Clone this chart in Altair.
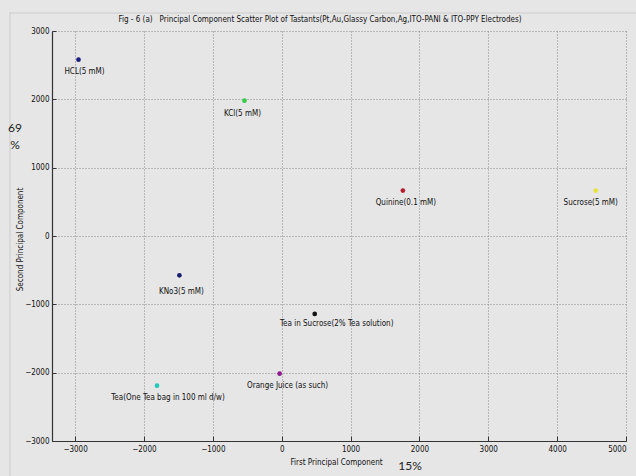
import altair as alt
import pandas as pd

# Tastant scores on the first two principal components
tastants = [
    "HCL(5 mM)",
    "KCl(5 mM)",
    "Quinine(0.1 mM)",
    "Sucrose(5 mM)",
    "KNo3(5 mM)",
    "Tea in Sucrose(2% Tea solution)",
    "Orange Juice (as such)",
    "Tea(One Tea bag in 100 ml d/w)",
]
pc1 = [-2950, -540, 1760, 4560, -1485, 480, -30, -1810]
pc2 = [2580, 1980, 665, 665, -575, -1140, -2015, -2190]
marker_colors = ["#1b1b80", "#33cc44", "#b81c2c", "#e4e43a",
                 "#1a1a70", "#111111", "#8e1a8e", "#22c8b8"]

x_ticks = [-3000, -2000, -1000, 0, 1000, 2000, 3000, 4000, 5000]
y_ticks = [-3000, -2000, -1000, 0, 1000, 2000, 3000]

# pixel nudges for each label relative to its marker
label_nudge = {
    "HCL(5 mM)": (6, 12),
    "KCl(5 mM)": (-2, 13),
    "Quinine(0.1 mM)": (3, 12),
    "Sucrose(5 mM)": (-5, 12),
    "KNo3(5 mM)": (2, 17),
    "Tea in Sucrose(2% Tea solution)": (22, 10),
    "Orange Juice (as such)": (8, 12),
    "Tea(One Tea bag in 100 ml d/w)": (11, 12),
}

TITLE = ("Fig - 6 (a)\u00a0\u00a0\u00a0Principal Component Scatter Plot of Tastants"
         "(Pt,Au,Glassy Carbon,Ag,ITO-PANI & ITO-PPY Electrodes)")

W, H = 574, 410
NARROW = "Liberation Sans Narrow, DejaVu Sans Condensed, Arial Narrow, sans-serif"
BG = "#e6e6e6"

df = pd.DataFrame({"name": tastants, "pc1": pc1, "pc2": pc2, "color": marker_colors})

xs = alt.Scale(domain=[-3335, 5000], nice=False, zero=False)
ys = alt.Scale(domain=[-3000, 3000], nice=False, zero=False)

base = alt.Chart(df)

points = base.mark_circle(size=22, opacity=1).encode(
    x=alt.X("pc1:Q", scale=xs,
            axis=alt.Axis(values=x_ticks, format="d", title="First Principal Component",
                          ticks=False, grid=True, gridDash=[1, 2],
                          gridColor="#8a8a8a", gridOpacity=1, labelPadding=4,
                          titleX=284, titleY=21, titleAnchor="middle",
                          titleAlign="center", titleBaseline="middle")),
    y=alt.Y("pc2:Q", scale=ys,
            axis=alt.Axis(values=y_ticks, format="d", title="Second Principal Component",
                          ticks=False, grid=True, gridDash=[1, 2],
                          gridColor="#8a8a8a", gridOpacity=1, labelPadding=3,
                          titleX=-32, titleY=208, titleAngle=-90,
                          titleAlign="center", titleBaseline="middle")),
    color=alt.Color("color:N", scale=None),
)

# inward-pointing tick marks: a top axis moved down onto the x baseline
# and a right axis moved left onto the y baseline
inner_ticks = base.mark_point(opacity=0).encode(
    x=alt.X("pc1:Q", scale=xs,
            axis=alt.Axis(orient="top", offset=-H, values=x_ticks, labels=False,
                          domain=False, grid=False, ticks=True, tickSize=5,
                          tickColor="#333333", title=None)),
    y=alt.Y("pc2:Q", scale=ys,
            axis=alt.Axis(orient="right", offset=-W, values=y_ticks, labels=False,
                          domain=False, grid=False, ticks=True, tickSize=4,
                          tickColor="#333333", title=None)),
)

label_layers = []
for name, (dx, dy) in label_nudge.items():
    label_layers.append(
        base.transform_filter(alt.datum.name == name)
        .mark_text(font=NARROW, fontSize=8, color="#111111", dx=dx, dy=dy,
                   align="center", baseline="middle")
        .encode(x=alt.X("pc1:Q", scale=xs, axis=None),
                y=alt.Y("pc2:Q", scale=ys, axis=None),
                text="name:N")
    )

# figure title
title = alt.Chart().mark_text(font=NARROW, fontSize=8, color="#111111",
                              align="center", baseline="middle").encode(
    x=alt.value(268), y=alt.value(-11), text=alt.value(TITLE))

# variance shares written beside the axes
pct_y = alt.Chart().mark_text(font="Lato", fontSize=12, color="#222222",
                              align="center", lineBreak="\n", lineHeight=17).encode(
    x=alt.value(-37), y=alt.value(97), text=alt.value("69\n%"))
pct_x = alt.Chart().mark_text(font="Lato", fontSize=12, color="#222222",
                              align="center", baseline="middle").encode(
    x=alt.value(358), y=alt.value(435), text=alt.value("15%"))

# light figure frame
frame_left = alt.Chart().mark_rule(color="#cccccc").encode(
    x=alt.value(-42), y=alt.value(-19), y2=alt.value(450))
frame_top = alt.Chart().mark_rule(color="#cccccc").encode(
    x=alt.value(-42), x2=alt.value(590), y=alt.value(-18))

chart = alt.layer(
    frame_left, frame_top, points, inner_ticks, *label_layers, title, pct_y, pct_x
).resolve_axis(x="independent", y="independent").properties(
    width=W, height=H,
    autosize=alt.AutoSizeParams(type="none"),
    padding={"left": 52, "top": 31, "right": 10, "bottom": 35},
    background=BG,
).configure_view(stroke=None).configure_axis(
    domainColor="#333333", domainWidth=1.2, labelFont=NARROW, labelFontSize=8,
    labelColor="#111111", titleFont=NARROW, titleFontSize=8,
    titleFontWeight="normal", titleColor="#111111",
)

chart.save("out.html", embed_options={"renderer": "svg", "actions": False})
